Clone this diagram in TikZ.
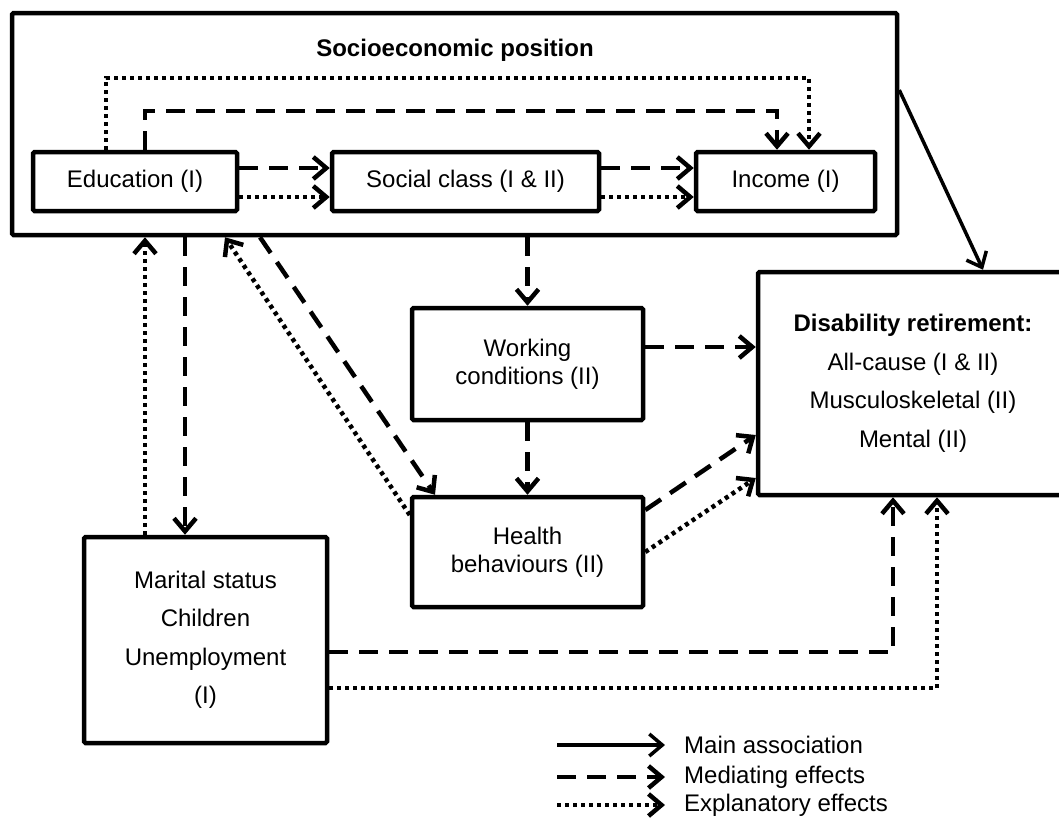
\documentclass[tikz,border=0pt]{standalone}
\usepackage{fontspec}
\setmainfont{Liberation Sans}
\usetikzlibrary{arrows.meta}

\tikzset{
	box/.style={draw, line width=4.5pt, rounded corners=1.5pt, inner sep=0pt, align=center},
	tip/.style={-{Straight Barb[length=13pt,width=22pt]}},
	mainarr/.style={tip, line width=3.5pt},
	medarr/.style={tip, line width=4.5pt, dash pattern=on 19pt off 11pt},
	explarr/.style={tip, line width=4.5pt, dash pattern=on 4pt off 4pt},
	legtext/.style={anchor=west, inner sep=0pt}
}

\begin{document}
\begin{tikzpicture}[x=1pt, y=-1pt, font=\fontsize{24}{28}\selectfont]
				\useasboundingbox (0,0) rectangle (1059,828);
				\node (sep) [box, minimum width=885, minimum height=222] at (454.5,124) {};
				\node (septitle) [font=\fontsize{24}{28}\selectfont\bfseries] at (455,50) {Socioeconomic position};
				\node (edu) [box, minimum width=204, minimum height=59] at (135,181.5) {Education (I)};
				\node (soc) [box, minimum width=267, minimum height=59] at (465.5,181.5) {Social class (I \& II)};
				\node (inc) [box, minimum width=179, minimum height=59] at (785.5,181.5) {Income (I)};
				\node (wc) [box, minimum width=231, minimum height=112] at (527.5,364) {Working\\conditions (II)};
				\node (hb) [box, minimum width=231, minimum height=110] at (527.5,552) {Health\\behaviours (II)};
				\node (dis) [box, minimum width=310, minimum height=223, font=\fontsize{24}{38.5}\selectfont] at (913,383.5) {\textbf{Disability retirement:}\\All-cause (I \& II)\\Musculoskeletal (II)\\Mental (II)};
				\node (mar) [box, minimum width=243, minimum height=206, font=\fontsize{24}{38.5}\selectfont] at (205.5,640) {Marital status\\Children\\Unemployment\\(I)};
				\draw [explarr] ([xshift=-29pt]edu.north) -- ++(0,-72) -| ([xshift=23.5pt]inc.north);
				\draw [medarr] ([xshift=10pt]edu.north) -- ++(0,-39) -| ([xshift=-8.5pt]inc.north);
				\draw [medarr] ([yshift=13.5pt]edu.east) -- ([yshift=13.5pt]soc.west);
				\draw [explarr] ([yshift=-15.5pt]edu.east) -- ([yshift=-15.5pt]soc.west);
				\draw [medarr] ([yshift=13.5pt]soc.east) -- ([yshift=13.5pt]inc.west);
				\draw [explarr] ([yshift=-15.5pt]soc.east) -- ([yshift=-15.5pt]inc.west);
				\draw [mainarr] ([yshift=34pt]sep.east) -- ([xshift=70pt]dis.north);
				\draw [medarr] (sep.south -| wc.north) -- (wc.north);
				\draw [medarr] (wc.south) -- (hb.north);
				\draw [medarr] ([yshift=17pt]wc.east) -- ([yshift=17pt]wc.east -| dis.west);
				\draw [medarr] ([yshift=42pt]hb.east) -- ([yshift=-51.5pt]dis.west);
				\draw [explarr] (hb.east) -- ([yshift=-94.5pt]dis.west);
				\draw [explarr] ([yshift=37pt]hb.west) -- ([xshift=-229.5pt]sep.south);
				\draw [medarr] ([xshift=-194.5pt]sep.south) -- ([xshift=-92.5pt]hb.north);
				\draw [explarr] ([xshift=-60.5pt]mar.north) -- ([xshift=-60.5pt]mar.north |- sep.south);
				\draw [medarr] ([xshift=-20.5pt]mar.north |- sep.south) -- ([xshift=-20.5pt]mar.north);
				\draw [medarr] ([yshift=-12pt]mar.east) -| ([xshift=-20pt]dis.south);
				\draw [explarr] ([yshift=-48pt]mar.east) -| ([xshift=24pt]dis.south);
				\node (lgmain) [legtext] at (684,745) {Main association};
				\node (lgmed) [legtext] at (684,777) {Mediating effects};
				\node (lgexpl) [legtext] at (684,805) {Explanatory effects};
				\draw [mainarr] ([xshift=-127pt]lgmain.west) -- ([xshift=-19pt]lgmain.west);
				\draw [medarr] ([xshift=-127pt]lgmed.west) -- ([xshift=-19pt]lgmed.west);
				\draw [explarr] ([xshift=-127pt]lgexpl.west) -- ([xshift=-19pt]lgexpl.west);
\end{tikzpicture}
\end{document}
